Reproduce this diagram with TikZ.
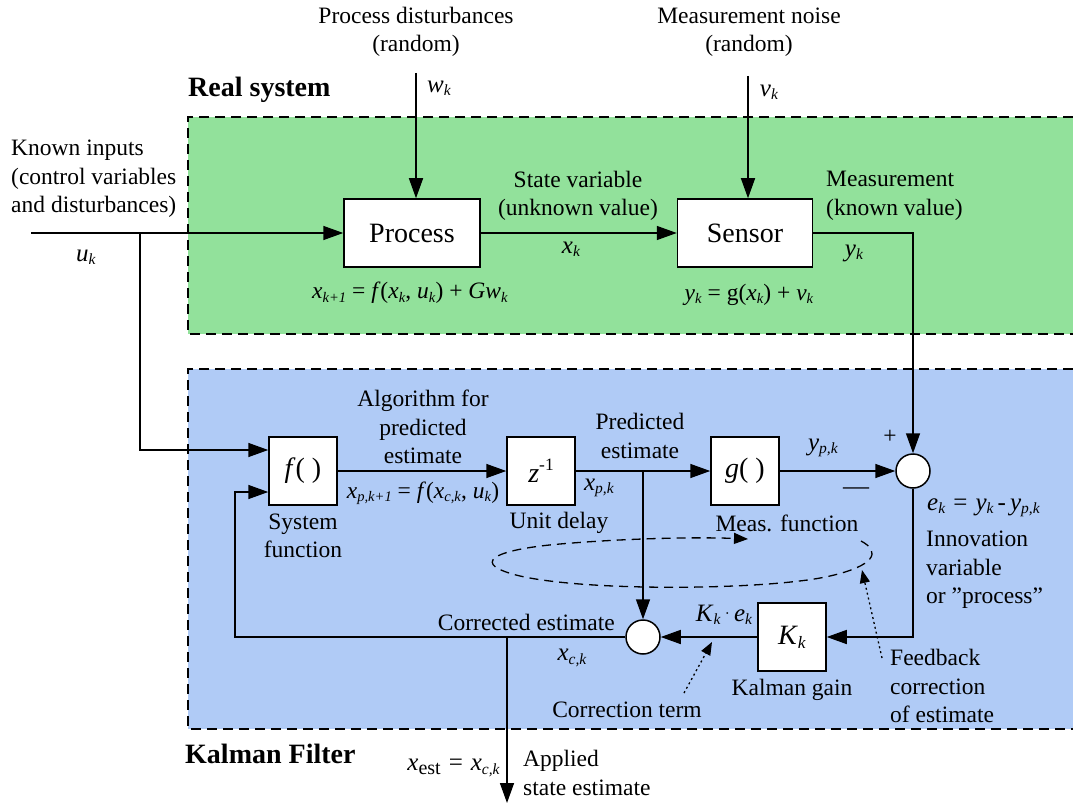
\documentclass[tikz,border=0pt]{standalone}
\usepackage{fontspec}
\setmainfont{Liberation Serif}
\usetikzlibrary{arrows.meta,positioning,calc}
\definecolor{realgreen}{HTML}{92E19B}
\definecolor{kfblue}{HTML}{B0CBF6}
\newcommand{\basefont}{\fontsize{23.5}{28.5}\selectfont}
\newcommand{\boxfont}{\fontsize{28}{30}\selectfont}
\newcommand{\iv}[2]{\textit{#1}\raisebox{-0.3ex}{\scalebox{0.62}{\textit{#2}}}}
\tikzset{
  blockbox/.style={
    rectangle, draw=black, fill=white, line width=1.5pt,
    minimum width=#1, minimum height=68pt,
    font=\boxfont, inner sep=2pt
  },
  blockbox/.default=68pt,
  sumnode/.style={circle, draw=black, fill=white, line width=1.5pt,
    minimum size=34pt, inner sep=0pt},
  sigline/.style={line width=1.5pt, -{Triangle[length=20pt,width=14pt]}},
  labelnode/.style={font=\basefont, align=center, inner sep=0pt},
  varnode/.style={font=\fontsize{25}{28}\selectfont, inner sep=0pt},
  titlenode/.style={font=\fontsize{28}{30}\selectfont\bfseries, anchor=west, inner sep=0pt},
  regionline/.style={line width=1.5pt, dash pattern=on 10pt off 6pt},
  loopline/.style={line width=1.3pt, dash pattern=on 9pt off 6pt,
    -{Triangle[length=14pt,width=11pt]}},
  hintarrow/.style={line width=1.3pt, dash pattern=on 2pt off 3pt,
    -{Triangle[length=13pt,width=10pt]}},
}
\begin{document}
\begin{tikzpicture}[x=1pt,y=-1pt]
  \useasboundingbox (0,0) rectangle (1073,805);
  % Regions
  \fill[realgreen] (188,117) rectangle (1073,334);
  \draw[regionline] (1073,117) -- (188,117) -- (188,334) -- (1073,334);
  \fill[kfblue] (188,369) rectangle (1073,729);
  \draw[regionline] (1073,369) -- (188,369) -- (188,729) -- (1073,729);
  \node[titlenode] (real-title) at (188,90) {Real system};
  \node[titlenode] (kf-title) at (185,754) {Kalman Filter};

  % Real system
  \node[blockbox=136pt] (process) at (412,233) {Process};
  \node[blockbox=135pt] (sensor) at (745,233) {Sensor};
  \coordinate (uin) at (31,233);
  \coordinate (ubranch) at (140,233);
  \coordinate (wtop) at (416,73);
  \coordinate (vtop) at (748,76);
  \draw[sigline] (uin) -- (process);
  \draw[sigline] (wtop) -- (wtop |- process.north);
  \draw[sigline] (vtop) -- (vtop |- sensor.north);
  \draw[sigline] (process) -- (sensor);
  \node[labelnode] (pd-label) at (416,32) {Process disturbances\\(random)};
  \node[labelnode] (mn-label) at (749,32) {Measurement noise\\(random)};
  \node[varnode] (w-label) at (439,88) {\iv{w}{k}};
  \node[varnode] (v-label) at (769,92) {\iv{v}{k}};
  \node[labelnode, align=left, anchor=west] (ki-label) at (11,179) {Known inputs\\(control variables\\and disturbances)};
  \node[varnode] (u-label) at (86,257) {\iv{u}{k}};
  \node[labelnode] (sv-label) at (578,196) {State variable\\(unknown value)};
  \node[varnode] (x-label) at (571,249) {\iv{x}{k}};
  \node[labelnode, align=left, anchor=west] (meas-label) at (826,196) {Measurement\\(known value)};
  \node[varnode] (y-label) at (854,253) {\iv{y}{k}};
  \node[labelnode] (proc-eq) at (410,293) {\iv{x}{k+1} = \textit{f}(\iv{x}{k}, \iv{u}{k}) + \textit{G}\iv{w}{k}};
  \node[labelnode] (sens-eq) at (749,295) {\iv{y}{k} = g(\iv{x}{k}) + \iv{v}{k}};

  % Kalman filter
  \node[blockbox] (sysf) at (303,471) {\textit{f}( )};
  \node[blockbox] (delay) at (541,471) {\textit{z}\raisebox{0.9ex}{\scalebox{0.62}{-1}}};
  \node[blockbox] (measg) at (745,471) {\textit{g}( )};
  \node[sumnode] (sumE) at (913,471) {};
  \node[sumnode] (sumC) at (643,637) {};
  \node[blockbox] (gain) at (792,637) {\iv{K}{k}};
  \coordinate (pbranch) at (643,471);
  \coordinate (fbcorner) at (235,637);
  \coordinate (xtap) at (507,637);
  \coordinate (xend) at (507,803);
  \draw[sigline] (ubranch) |- ([yshift=21pt]sysf.west);
  \draw[sigline] (sensor.east) -| (sumE.north);
  \draw[sigline] (sysf) -- (delay);
  \draw[sigline] (delay) -- (measg);
  \draw[sigline] (measg) -- (sumE);
  \draw[sigline] (pbranch) -- (sumC.north);
  \draw[sigline] (sumE.south) |- (gain.east);
  \draw[sigline] (gain.west) -- (sumC.east);
  \draw[sigline] (sumC.west) -- (fbcorner) |- ([yshift=-21pt]sysf.west);
  \draw[sigline] (xtap) -- (xend);
  % loop of the feedback correction
  \draw[loopline] (861,541) .. controls (882,552) and (874,566) .. (830,576)
    .. controls (770,590) and (590,592) .. (520,576)
    .. controls (470,564) and (490,550) .. (560,544)
    .. controls (630,538) and (700,537) .. (748,539);
  \coordinate (fbhint) at (882,658);
  \coordinate (fbtip) at (862,570);
  \coordinate (cthint) at (684,693);
  \coordinate (cttip) at (712,642);
  \draw[hintarrow] (fbhint) -- (fbtip);
  \draw[hintarrow] (cthint) -- (cttip);

  \node[labelnode] (alg-label) at (423,427) {Algorithm for\\predicted\\estimate};
  \node[labelnode] (pred-eq) at (423,493) {\iv{x}{p,k+1} = \textit{f}(\iv{x}{c,k}, \iv{u}{k})};
  \node[labelnode] (sysf-label) at (303,536) {System\\function};
  \node[labelnode] (delay-label) at (559,523) {Unit delay};
  \node[labelnode] (pe-label) at (640,436) {Predicted\\estimate};
  \node[varnode] (xp-label) at (599,488) {\iv{x}{p,k}};
  \node[labelnode] (measf-label) at (787,523) {Meas. function};
  \node[varnode] (yp-label) at (823,448) {\iv{y}{p,k}};
  \node[labelnode] (plus-label) at (890,437) {+};
  \node[labelnode, font=\fontsize{26}{28}\selectfont] (minus-label) at (856,491) {—};
  \node[varnode, anchor=west] (ek-eq) at (927,508) {\iv{e}{k}\hspace{8pt}=\hspace{8pt}\iv{y}{k}\hspace{4pt}-\hspace{4pt}\iv{y}{p,k}};
  \node[labelnode, align=left, anchor=west] (innov-label) at (926,570) {Innovation\\variable\\or ”process”};
  \node[varnode] (ke-label) at (724,615) {\iv{K}{k}\,\raisebox{0.3ex}{\scalebox{0.6}{·}}\,\iv{e}{k}};
  \node[labelnode] (gain-label) at (792,690) {Kalman gain};
  \node[labelnode, align=left, anchor=west] (fb-label) at (890,686) {Feedback\\correction\\of estimate};
  \node[labelnode] (ct-label) at (627,710) {Correction term};
  \node[labelnode, anchor=east] (ce-label) at (615,622) {Corrected estimate};
  \node[varnode] (xc-label) at (572,658) {\iv{x}{c,k}};
  \node[varnode, anchor=east] (xest-eq) at (500,768) {\textit{x}\raisebox{-0.3ex}{\scalebox{0.8}{est}}\hspace{8pt}=\hspace{8pt}\iv{x}{c,k}};
  \node[labelnode, align=left, anchor=west] (applied-label) at (523,773) {Applied\\state estimate};
\end{tikzpicture}
\end{document}
